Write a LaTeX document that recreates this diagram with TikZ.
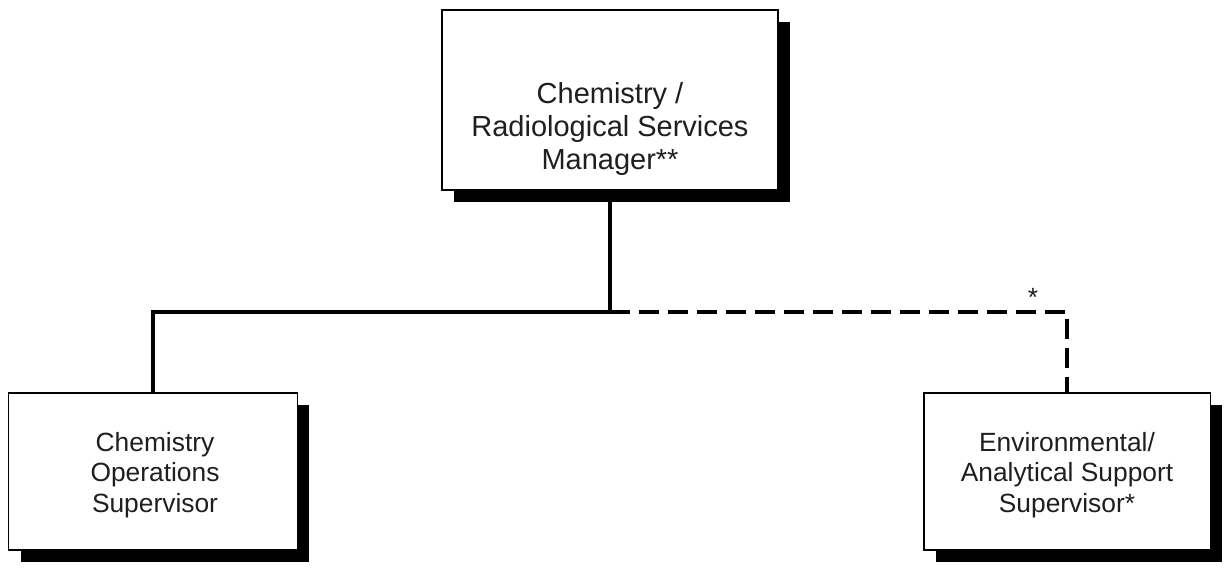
\documentclass[tikz,border=0pt]{standalone}
\usepackage{fontspec}
\setmainfont{Liberation Sans}
\usetikzlibrary{shadows}
\begin{document}
\begin{tikzpicture}[x=0.02cm,y=-0.02cm,
  orgbox/.style={draw=black, line width=1.1pt, fill=white, rectangle,
    drop shadow={shadow xshift=0.24cm, shadow yshift=-0.24cm, fill=black, opacity=1}},
  boxtext/.style={align=center, text=black!88, inner sep=0pt,
    font=\fontsize{15}{17.3}\selectfont},
  bigtext/.style={boxtext, font=\fontsize{16.5}{19}\selectfont},
  conn/.style={line width=2.7pt, line cap=butt, line join=miter},
  dotted link/.style={conn, dash pattern=on 0.4cm off 0.18cm}]
  \useasboundingbox (0,0) rectangle (1225,571);

  % boxes
  \node[orgbox, minimum width=6.72cm, minimum height=3.6cm] (mgr) at (610,100) {};
  \node[orgbox, minimum width=5.78cm, minimum height=3.14cm] (ops) at (153,471.5) {};
  \node[orgbox, minimum width=5.74cm, minimum height=3.14cm] (env) at (1067,471.5) {};

  % box titles
  \node[bigtext] (mgrtext) at (610,129) {Chemistry /\\Radiological Services\\Manager**};
  \node[boxtext] (opstext) at (155,475) {Chemistry\\Operations\\Supervisor};
  \node[boxtext] (envtext) at (1067,475) {Environmental/\\Analytical Support\\Supervisor*};

  % reporting lines
  \coordinate (bus) at (610,312);
  \draw[conn] (mgr.south) -- (bus) -| (ops.north);
  \draw[dotted link] (bus) -| (env.north);
  \node[boxtext] (star) at (1033,297) {*};
\end{tikzpicture}
\end{document}
